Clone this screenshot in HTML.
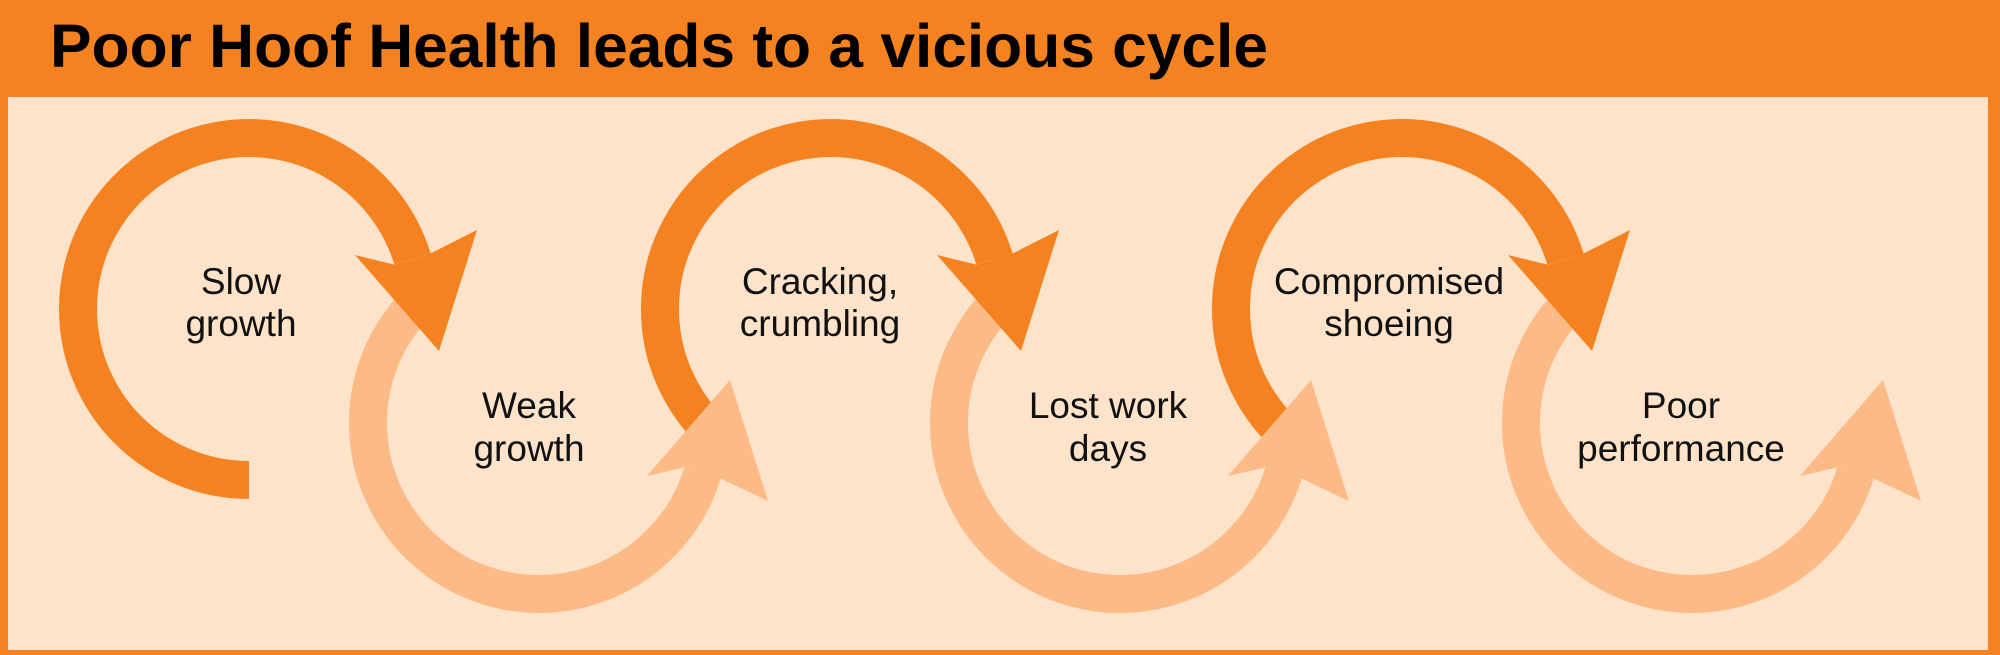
<!DOCTYPE html>
<html><head><meta charset="utf-8"><style>
html,body{margin:0;padding:0;background:#F58220;}
svg{display:block;}
</style></head><body>
<svg width="2000" height="655" viewBox="0 0 2000 655" xmlns="http://www.w3.org/2000/svg">
<rect x="0" y="0" width="2000" height="655" fill="#F58220"/>
<rect x="8" y="97" width="1980" height="553" fill="#FDE3CA"/>
<text x="50" y="67" font-family="Liberation Sans, sans-serif" font-weight="bold" font-size="61" fill="#000" textLength="1218" lengthAdjust="spacingAndGlyphs">Poor Hoof Health leads to a vicious cycle</text>

<g fill="none" stroke="#FBBA86" stroke-width="38">
<path d="M440.9,282.9 A171,171 0 1 0 702.5,473"/>
<path d="M1021.9,282.9 A171,171 0 1 0 1283.5,473"/>
<path d="M1593.9,282.9 A171,171 0 1 0 1855.5,473"/>
</g>
<g fill="none" stroke="#F58220" stroke-width="38">
<path d="M249,480 A171,171 0 1 1 412.5,259"/>
<path d="M732.9,449.1 A171,171 0 1 1 994.5,259"/>
<path d="M1303.9,449.1 A171,171 0 1 1 1565.5,259"/>
</g>
<g fill="#F58220">
<polygon points="355,255 394.4,264.6 430.7,253.4 477,230 439,351"/>
<polygon points="937,255 976.4,264.6 1012.7,253.4 1059,230 1021,351"/>
<polygon points="1508,255 1547.4,264.6 1583.7,253.4 1630,230 1592,351"/>
</g>
<g fill="#FBBA86">
<polygon points="647,476 684.4,467.4 720.7,478.6 768,501 730,380"/>
<polygon points="1228,476 1265.4,467.4 1301.7,478.6 1349,501 1311,380"/>
<polygon points="1800,476 1837.4,467.4 1873.7,478.6 1921,501 1883,380"/>
</g>

<g font-family="Liberation Sans, sans-serif" font-size="37" fill="#111" text-anchor="middle">
<text x="241" y="294">Slow</text><text x="241" y="336">growth</text>
<text x="529" y="418">Weak</text><text x="529" y="461">growth</text>
<text x="820" y="294">Cracking,</text><text x="820" y="336">crumbling</text>
<text x="1108" y="418">Lost work</text><text x="1108" y="461">days</text>
<text x="1389" y="294">Compromised</text><text x="1389" y="336">shoeing</text>
<text x="1681" y="418">Poor</text><text x="1681" y="461">performance</text>
</g>
</svg>
</body></html>
